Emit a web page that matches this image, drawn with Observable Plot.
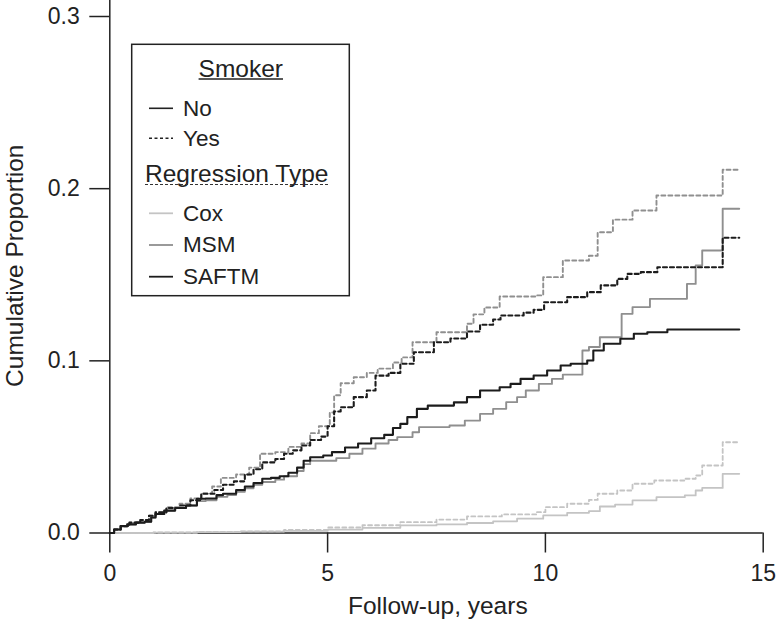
<!DOCTYPE html>
<html><head><meta charset="utf-8">
<script src="https://cdn.jsdelivr.net/npm/d3@7"></script>
<script src="https://cdn.jsdelivr.net/npm/@observablehq/plot@0.6"></script>
<style>
html,body{margin:0;padding:0;background:#fff;}
#chart{width:776px;height:620px;}
</style></head><body><div id="chart"></div>
<script>
// ---- data ----
const xTicks = [0, 5, 10, 15];
const yTicks = [0, 0.1, 0.2, 0.3];
const xTitle = "Follow-up, years";
const yTitle = "Cumulative Proportion";
const legendSmokerTitle = "Smoker";
const smokerLevels = ["No", "Yes"];
const legendModelTitle = "Regression Type";
const modelLevels = ["Cox", "MSM", "SAFTM"];

// [time, cumulative proportion] step points
const coxNo = [[0,0],[1,0.0002],[2,0.0005],[3,0.0008],[4,0.0012],[5,0.002],[5.8,0.003],[6.67,0.0044],[7.5,0.005],[8.2,0.0058],[8.8,0.0068],[9.35,0.0083],[9.95,0.0102],[10.5,0.0117],[11.0,0.0127],[11.25,0.0154],[11.6,0.0165],[12.0,0.0189],[12.55,0.0208],[13.2,0.0218],[13.45,0.0247],[13.6,0.0262],[14.07,0.0344],[14.45,0.0344]];
const coxYes = [[0,0],[1,0.0003],[2,0.0006],[3,0.001],[4,0.0018],[5,0.0032],[5.8,0.0045],[6.67,0.0063],[7.5,0.0078],[8.2,0.0096],[9.0,0.0108],[9.8,0.0121],[10.0,0.015],[10.5,0.017],[11.0,0.0192],[11.2,0.0228],[11.65,0.0247],[12.0,0.0286],[12.5,0.0305],[13.2,0.0315],[13.45,0.0334],[13.6,0.0392],[14.07,0.0527],[14.45,0.0527]];
const msmNo = [[0,0],[0.1,0.002],[0.25,0.004],[0.4,0.005],[0.6,0.006],[0.8,0.0065],[0.95,0.009],[1.05,0.011],[1.25,0.013],[1.5,0.0145],[1.75,0.016],[2.0,0.0185],[2.2,0.019],[2.45,0.021],[2.7,0.022],[2.9,0.024],[3.1,0.026],[3.3,0.028],[3.5,0.0296],[3.8,0.031],[4.0,0.033],[4.3,0.036],[4.45,0.04],[4.6,0.042],[5.2,0.0435],[5.5,0.046],[5.8,0.049],[6.1,0.052],[6.4,0.054],[6.6,0.0557],[6.95,0.0585],[7.1,0.0615],[7.8,0.0624],[8.15,0.0653],[8.5,0.0692],[8.8,0.0721],[9.1,0.076],[9.35,0.0789],[9.55,0.0828],[9.85,0.0866],[10.15,0.0895],[10.4,0.092],[10.85,0.106],[11.0,0.108],[11.25,0.1137],[11.75,0.1273],[12.0,0.1312],[12.4,0.136],[13.25,0.1447],[13.45,0.1554],[13.6,0.1641],[14.07,0.1883],[14.45,0.1883]];
const msmYes = [[0,0],[0.1,0.002],[0.25,0.004],[0.45,0.006],[0.7,0.0075],[0.9,0.01],[1.05,0.012],[1.3,0.015],[1.6,0.017],[1.85,0.02],[2.1,0.023],[2.35,0.027],[2.55,0.032],[2.9,0.034],[3.2,0.038],[3.45,0.046],[3.8,0.047],[4.1,0.05],[4.4,0.052],[4.6,0.058],[4.8,0.062],[5.05,0.07],[5.15,0.08],[5.3,0.087],[5.6,0.0905],[5.9,0.093],[6.15,0.0955],[6.5,0.099],[6.7,0.102],[6.95,0.1108],[7.5,0.1166],[8.2,0.1215],[8.35,0.127],[8.6,0.131],[8.95,0.1374],[9.8,0.138],[9.95,0.1486],[10.4,0.1583],[11.0,0.161],[11.2,0.1747],[11.55,0.182],[12.0,0.1873],[12.55,0.196],[14.07,0.211],[14.45,0.211]];
const saftmNo = [[0,0],[0.1,0.002],[0.25,0.004],[0.4,0.005],[0.6,0.006],[0.8,0.0065],[0.95,0.009],[1.05,0.011],[1.25,0.013],[1.5,0.0145],[1.75,0.016],[2.0,0.0199],[2.2,0.02],[2.45,0.022],[2.6,0.0228],[2.9,0.025],[3.1,0.027],[3.3,0.029],[3.5,0.0315],[3.7,0.032],[3.9,0.033],[4.1,0.035],[4.3,0.038],[4.45,0.042],[4.6,0.044],[4.9,0.045],[5.1,0.047],[5.4,0.0497],[5.7,0.052],[6.0,0.055],[6.3,0.057],[6.5,0.061],[6.67,0.0634],[6.83,0.0673],[7.05,0.0721],[7.3,0.074],[7.9,0.0759],[8.2,0.0789],[8.5,0.0828],[8.95,0.0847],[9.2,0.0866],[9.43,0.0895],[9.73,0.0915],[10.04,0.0944],[10.35,0.0973],[10.58,0.0983],[10.96,0.1002],[11.1,0.106],[11.34,0.1099],[11.72,0.1128],[12.03,0.1157],[12.34,0.1166],[12.8,0.1182],[14.45,0.1182]];
const saftmYes = [[0,0],[0.1,0.002],[0.25,0.004],[0.45,0.006],[0.7,0.0075],[0.9,0.01],[1.05,0.012],[1.3,0.0145],[1.6,0.016],[1.85,0.019],[2.1,0.0228],[2.4,0.025],[2.6,0.028],[2.85,0.03],[3.1,0.034],[3.3,0.037],[3.5,0.041],[3.8,0.043],[4.0,0.046],[4.2,0.048],[4.4,0.0508],[4.6,0.054],[4.85,0.056],[5.0,0.062],[5.15,0.0706],[5.3,0.073],[5.6,0.0789],[5.9,0.0828],[6.1,0.0914],[6.4,0.093],[6.67,0.0983],[6.98,0.105],[7.44,0.1108],[7.82,0.113],[8.2,0.117],[8.5,0.121],[8.8,0.124],[8.97,0.1263],[9.5,0.128],[9.73,0.1296],[9.97,0.134],[10.5,0.137],[10.96,0.1399],[11.27,0.1438],[11.65,0.1476],[11.88,0.1505],[12.19,0.1515],[12.57,0.1544],[14.07,0.1715],[14.45,0.1715]];

const series = [
  {model:"Cox", smoker:"No", pts:coxNo},
  {model:"Cox", smoker:"Yes", pts:coxYes},
  {model:"MSM", smoker:"No", pts:msmNo},
  {model:"MSM", smoker:"Yes", pts:msmYes},
  {model:"SAFTM", smoker:"No", pts:saftmNo},
  {model:"SAFTM", smoker:"Yes", pts:saftmYes}
];

// ---- styles ----
const modelColor = {Cox:"#c4c4c4", MSM:"#8f8f8f", SAFTM:"#1c1c1c"};
const modelWidth = {Cox:1.8, MSM:1.9, SAFTM:2.1};
const smokerDash = {No:null, Yes:"4,3"};
const FONT = "'Liberation Sans', Arial, Helvetica, sans-serif";

const lineMarks = series.map(s => Plot.line(
  s.pts.map(([t, v]) => ({t, v})),
  {x:"t", y:"v", curve:"step-after", stroke:modelColor[s.model],
   strokeWidth:modelWidth[s.model], strokeDasharray:smokerDash[s.smoker] || undefined}
));

const chart = Plot.plot({
  width:776, height:620,
  marginLeft:109.3, marginRight:13.3, marginTop:16, marginBottom:87.5,
  style:{fontFamily:FONT, fontSize:"23px", background:"#fff", color:"#222", overflow:"visible"},
  x:{domain:[0,15]},
  y:{domain:[0,0.3]},
  marks:[
    Plot.axisX({ticks:xTicks, tickSize:20, tickPadding:12, label:null, tickFormat:d => String(d), strokeWidth:1.5, fill:"#222"}),
    Plot.axisY({ticks:yTicks, tickSize:20, tickPadding:10, label:null, tickFormat:d => d.toFixed(1), strokeWidth:1.5, fill:"#222"}),
    Plot.ruleY([0], {stroke:"#222", strokeWidth:1.5}),
    Plot.ruleX([0], {y1:0, y2:0.31, stroke:"#222", strokeWidth:1.5}),
    ...lineMarks
  ]
});
document.getElementById("chart").appendChild(chart);

// ---- titles and legend ----
const svg = d3.select(chart);
svg.append("text").attr("x", 437.8).attr("y", 614).attr("text-anchor","middle")
  .attr("font-family", FONT).attr("font-size", 24.5).attr("fill","#222").text(xTitle);
svg.append("text").attr("transform","translate(23,265.7) rotate(-90)").attr("text-anchor","middle")
  .attr("font-family", FONT).attr("font-size", 24.5).attr("fill","#222").text(yTitle);

const lg = svg.append("g").attr("font-family", FONT).attr("fill", "#222").attr("text-anchor","start");
lg.append("rect").attr("x",131.7).attr("y",44.3).attr("width",217.6).attr("height",251.4)
  .attr("fill","#fff").attr("stroke","#222").attr("stroke-width",1.5);
// Smoker heading
const sm = lg.append("text").attr("x",240.8).attr("y",76.5).attr("text-anchor","middle")
  .attr("font-size",24.5).text(legendSmokerTitle);
const smBox = sm.node().getBBox();
lg.append("line").attr("x1",smBox.x).attr("x2",smBox.x+smBox.width).attr("y1",79).attr("y2",79)
  .attr("stroke","#222").attr("stroke-width",1.3);
const smokerRowY = [108.3, 138.3];
smokerLevels.forEach((lvl,i) => {
  lg.append("line").attr("x1",149).attr("x2",173).attr("y1",smokerRowY[i]).attr("y2",smokerRowY[i])
    .attr("stroke","#222").attr("stroke-width",1.6).attr("stroke-dasharray", smokerDash[lvl] ? "3,2.5" : null);
  lg.append("text").attr("x",183).attr("y",smokerRowY[i]+7.2).attr("text-anchor","start")
    .attr("font-size",22.5).text(lvl);
});
// Regression type heading
const rt = lg.append("text").attr("x",145).attr("y",181.7).attr("text-anchor","start")
  .attr("font-size",24.5).text(legendModelTitle);
const rtBox = rt.node().getBBox();
lg.append("line").attr("x1",rtBox.x).attr("x2",rtBox.x+rtBox.width).attr("y1",184.5).attr("y2",184.5)
  .attr("stroke","#333").attr("stroke-width",1.2).attr("stroke-dasharray","3,2");
const modelRowY = [213.3, 245, 276.7];
modelLevels.forEach((m,i) => {
  lg.append("line").attr("x1",149).attr("x2",173).attr("y1",modelRowY[i]).attr("y2",modelRowY[i])
    .attr("stroke",modelColor[m]).attr("stroke-width",1.8);
  lg.append("text").attr("x",183).attr("y",modelRowY[i]+7.4).attr("text-anchor","start")
    .attr("font-size",22.5).text(m);
});
</script>
</body></html>
